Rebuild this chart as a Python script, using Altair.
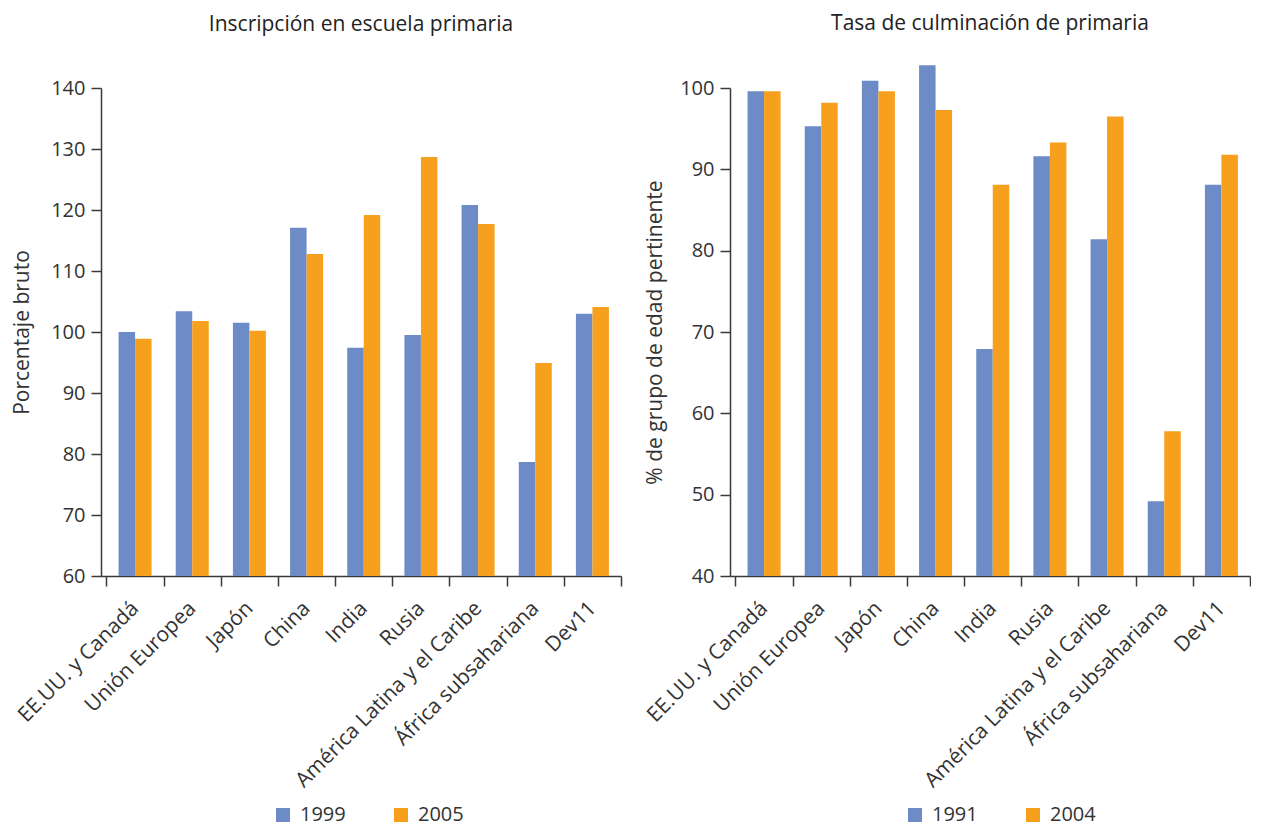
import altair as alt
import pandas as pd

categories = ["EE.UU. y Canadá", "Unión Europea", "Japón", "China", "India", "Rusia",
              "América Latina y el Caribe", "África subsahariana", "Dev11"]

enroll_years = ["1999", "2005"]
enroll_1999 = [100.0, 103.4, 101.5, 117.1, 97.4, 99.5, 120.8, 78.7, 103.0]
enroll_2005 = [98.9, 101.8, 100.2, 112.8, 119.2, 128.7, 117.7, 94.9, 104.1]

compl_years = ["1991", "2004"]
compl_1991 = [99.6, 95.3, 100.9, 102.8, 67.9, 91.6, 81.4, 49.2, 88.1]
compl_2004 = [99.6, 98.2, 99.6, 97.3, 88.1, 93.3, 96.5, 57.8, 91.8]

left_ticks = [60, 70, 80, 90, 100, 110, 120, 130, 140]
right_ticks = [40, 50, 60, 70, 80, 90, 100]

BLUE = "#6C8BC7"
ORANGE = "#F7A01E"
FONT = "Open Sans"
AXIS_COLOR = "#3a3a3a"
TEXT_COLOR = "#333333"
BAR_W = 16.5


def panel(vals_a, vals_b, years, title, ytitle, ymin, ymax, ticks, legend_x,
          title_offset, title_pad):
    df = pd.DataFrame({
        "cat": categories * 2,
        "year": [years[0]] * len(categories) + [years[1]] * len(categories),
        "value": vals_a + vals_b,
    })
    enc = dict(
        x=alt.X("cat:N", sort=categories, title=None,
                scale=alt.Scale(paddingInner=0, paddingOuter=0.048, align=1),
                axis=alt.Axis(labelAngle=-45, tickBand="extent", labelAlign="right",
                              labelBaseline="middle", labelPadding=19, labelLimit=0,
                              labelFontSize=21)),
        y=alt.Y("value:Q", title=ytitle,
                scale=alt.Scale(domain=[ymin, ymax], nice=False, zero=False),
                axis=alt.Axis(values=ticks, titlePadding=title_pad, labelPadding=6)),
        y2=alt.datum(ymin),
        color=alt.Color("year:N", sort=years,
                        scale=alt.Scale(domain=years, range=[BLUE, ORANGE]),
                        legend=alt.Legend(title=None, orient="none", direction="horizontal",
                                          legendX=legend_x, legendY=715,
                                          symbolType="square", symbolSize=196,
                                          symbolStrokeWidth=0, labelFontSize=20,
                                          labelFont=FONT, labelColor=TEXT_COLOR,
                                          columnPadding=45, labelOffset=7, padding=2)),
    )
    base = alt.Chart(df).encode(**enc)
    bars_a = base.mark_bar(width=BAR_W, xOffset=-BAR_W / 2).transform_filter(
        alt.datum.year == years[0])
    bars_b = base.mark_bar(width=BAR_W, xOffset=BAR_W / 2).transform_filter(
        alt.datum.year == years[1])
    return alt.layer(bars_a, bars_b).properties(
        width=520, height=488,
        title=alt.TitleParams(title, fontSize=21, fontWeight="normal", font=FONT,
                              color="#222222", offset=title_offset, baseline="alphabetic",
                              frame="group", anchor="middle"),
    )


left = panel(enroll_1999, enroll_2005, enroll_years, "Inscripción en escuela primaria",
             "Porcentaje bruto", 60, 140, left_ticks, 170, 26, 18)
right = panel(compl_1991, compl_2004, compl_years, "Tasa de culminación de primaria",
              "% de grupo de edad pertinente", 40, 100, right_ticks, 173, 14, 14)

chart = alt.hconcat(left, right, spacing=20).resolve_scale(
    color="independent", y="independent", x="independent"
).properties(
    padding={"left": 3, "top": 5, "right": 0, "bottom": 3}
).configure_view(stroke=None).configure_axis(
    domainColor=AXIS_COLOR, domainWidth=1.5, tickColor=AXIS_COLOR, tickWidth=1.5,
    tickSize=10, labelFontSize=20, labelColor=TEXT_COLOR, labelFont=FONT,
    titleFontSize=21, titleFontWeight="normal", titleColor=TEXT_COLOR, titleFont=FONT,
    grid=False,
)

chart.save("out.html", embed_options={"renderer": "svg", "actions": False})
